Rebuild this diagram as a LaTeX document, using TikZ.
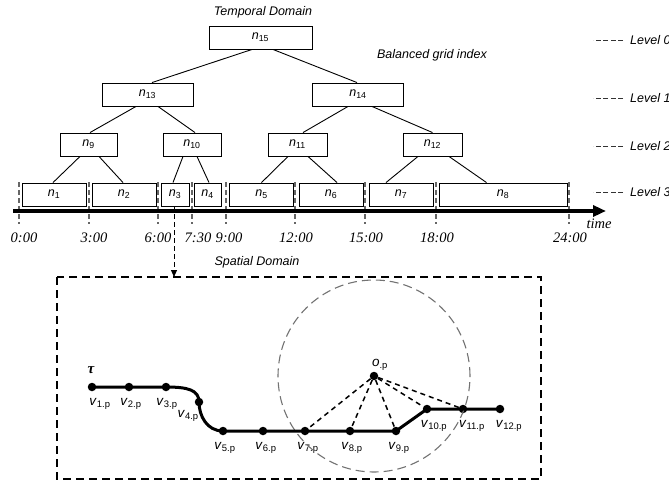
\documentclass[tikz,border=0pt]{standalone}
\usepackage{fontspec}
\setmainfont{Liberation Sans}
\newfontfamily\timesf{Liberation Serif}
\usetikzlibrary{arrows.meta}
\newcommand{\nsub}[1]{\textit{n}\textsubscript{#1}}
\newcommand{\vsub}[1]{\textit{v}\textsubscript{#1.p}}
\tikzset{
    sansf/.style={font=\fontsize{12.5}{14}\selectfont},
    itsansf/.style={font=\fontsize{12.5}{14}\selectfont\itshape},
    timef/.style={font=\timesf\fontsize{14.5}{16}\itshape},
    tbox/.style={draw, line width=0.9pt, minimum height=23pt, inner sep=0pt, sansf},
    tedge/.style={line width=0.9pt},
    tickline/.style={draw=black!60, dash pattern=on 5pt off 3pt, line width=1.1pt},
    leveldash/.style={black!80, dash pattern=on 5pt off 2.5pt, line width=0.9pt},
    dot/.style={circle, fill, inner sep=0pt, minimum size=8.5pt},
    olab/.style={font=\fontsize{13.5}{15}\selectfont, inner sep=1pt},
    vlab/.style={olab, yshift=-6},
    traj/.style={line width=3pt},
    reach/.style={dash pattern=on 5pt off 4pt, line width=1.5pt},
}
\begin{document}
\begin{tikzpicture}[x=1pt, y=-1pt]
    \useasboundingbox (0,0) rectangle (669,485);
    % temporal domain: balanced grid index
    \node[itsansf] (temporal) at (263,12) {Temporal Domain};
    \node[itsansf] (balanced) at (432,55) {Balanced grid index};
    \node[tbox, minimum width=103pt] (n15) at (260.5,37.5) {\nsub{15}};
    \node[tbox, minimum width=91pt] (n13) at (147.5,94.5) {\nsub{13}};
    \node[tbox, minimum width=91pt] (n14) at (358,94.5) {\nsub{14}};
    \node[tbox, minimum width=57pt] (n9) at (88.5,144.5) {\nsub{9}};
    \node[tbox, minimum width=58pt] (n10) at (192,144.5) {\nsub{10}};
    \node[tbox, minimum width=59pt] (n11) at (297.5,144.5) {\nsub{11}};
    \node[tbox, minimum width=59pt] (n12) at (432.5,144.5) {\nsub{12}};
    \node[tbox, minimum width=64pt] (n1) at (54,194.5) {\nsub{1}};
    \node[tbox, minimum width=64pt] (n2) at (124,194.5) {\nsub{2}};
    \node[tbox, minimum width=28pt] (n3) at (175,194.5) {\nsub{3}};
    \node[tbox, minimum width=27pt] (n4) at (207.5,194.5) {\nsub{4}};
    \node[tbox, minimum width=64pt] (n5) at (261.5,194.5) {\nsub{5}};
    \node[tbox, minimum width=64pt] (n6) at (331,194.5) {\nsub{6}};
    \node[tbox, minimum width=64pt] (n7) at (401,194.5) {\nsub{7}};
    \node[tbox, minimum width=128pt] (n8) at (503,194.5) {\nsub{8}};
    \foreach \p/\a/\c/\b in {15/-8.5/13/4.5, 15/12.5/14/-1, 13/-11.5/9/1.5, 13/10.5/10/3,
        14/-10/11/5.5, 14/14/12/0, 9/-8.5/1/-1, 9/10.5/2/-1, 10/-9/3/-2, 10/5/4/1.5,
        11/-9.5/5/0, 11/10.5/6/6, 12/-14.5/7/-15, 12/16.5/8/-16.5}
        \draw[tedge] ([xshift=\a]n\p.south) -- ([xshift=\b]n\c.north);
    % levels
    \foreach \l/\y in {0/40, 1/98, 2/146, 3/192} {
        \node[itsansf, anchor=west, inner sep=0pt] (L\l) at (630,\y) {Level \l};
        \draw[leveldash] ([xshift=-7]L\l.west) -- ++(-30,0);
    }
    % time axis
    \foreach \x/\lx/\t in {19/24/0:00, 89/94/3:00, 158/158/6:00, 192/198/7:30, 226/229/9:00,
        295/296/12:00, 365/366/15:00, 436/437/18:00, 569/570/24:00} {
        \draw[tickline] (\x,182) -- (\x,224);
        \node[timef] (t\x) at (\lx,238) {\t};
    }
    \coordinate (tstart) at (13,211);
    \coordinate (tend) at (606,211);
    \draw[line width=4pt, -{Triangle[length=13pt, width=11pt]}] (tstart) -- (tend);
    \node[timef] (time) at (599,224) {time};
    % spatial domain
    \node[itsansf] (spatial) at (257,262) {Spatial Domain};
    \draw[line width=1.2pt, dash pattern=on 8pt off 5pt] (57,277) rectangle (541,479);
    \coordinate (boxin) at (174,277);
    \draw[line width=1pt, dash pattern=on 5pt off 3pt, -{Triangle[length=7pt, width=6pt]}]
        (n3.south -| boxin) -- (boxin);
    \node[font=\timesf\fontsize{15}{16}\bfseries\itshape] (tau) at (91,370) {τ};
    \node[dot, label={[vlab, xshift=8]below:\vsub{1}}] (v1) at (92,387) {};
    \node[dot, label={[vlab, xshift=2]below:\vsub{2}}] (v2) at (129,387) {};
    \node[dot, label={[vlab, xshift=1]below:\vsub{3}}] (v3) at (166,387) {};
    \node[dot, label={[vlab, inner sep=0pt, xshift=3, yshift=1]below left:\vsub{4}}] (v4) at (199,402) {};
    \node[dot, label={[vlab, xshift=2]below:\vsub{5}}] (v5) at (223,431) {};
    \node[dot, label={[vlab, xshift=3]below:\vsub{6}}] (v6) at (263,431) {};
    \node[dot, label={[vlab, xshift=3]below:\vsub{7}}] (v7) at (305,431) {};
    \node[dot, label={[vlab, xshift=2]below:\vsub{8}}] (v8) at (350,431) {};
    \node[dot, label={[vlab, xshift=3]below:\vsub{9}}] (v9) at (396,431) {};
    \node[dot, label={[vlab, xshift=7]below:\vsub{10}}] (v10) at (427,409) {};
    \node[dot, label={[vlab, xshift=9]below:\vsub{11}}] (v11) at (463,409) {};
    \node[dot, label={[vlab, xshift=9]below:\vsub{12}}] (v12) at (500,409) {};
    \node[dot, label={[olab, xshift=6]above:\textit{o}\textsubscript{.p}}] (o) at (374,376) {};
    \draw[black!55, dash pattern=on 9pt off 5pt, line width=1.1pt] (o.center) circle[radius=96pt];
    \draw[traj] (v1.center) -- (v2.center) -- (v3.center)
        .. controls (188,387) and (199,390) .. (v4.center)
        .. controls (199,416) and (207,431) .. (v5.center)
        -- (v6.center) -- (v7.center) -- (v8.center) -- (v9.center)
        -- (v10.center) -- (v11.center) -- (v12.center);
    \foreach \k in {7,...,11}
        \draw[reach] (o) -- (v\k);
\end{tikzpicture}
\end{document}
